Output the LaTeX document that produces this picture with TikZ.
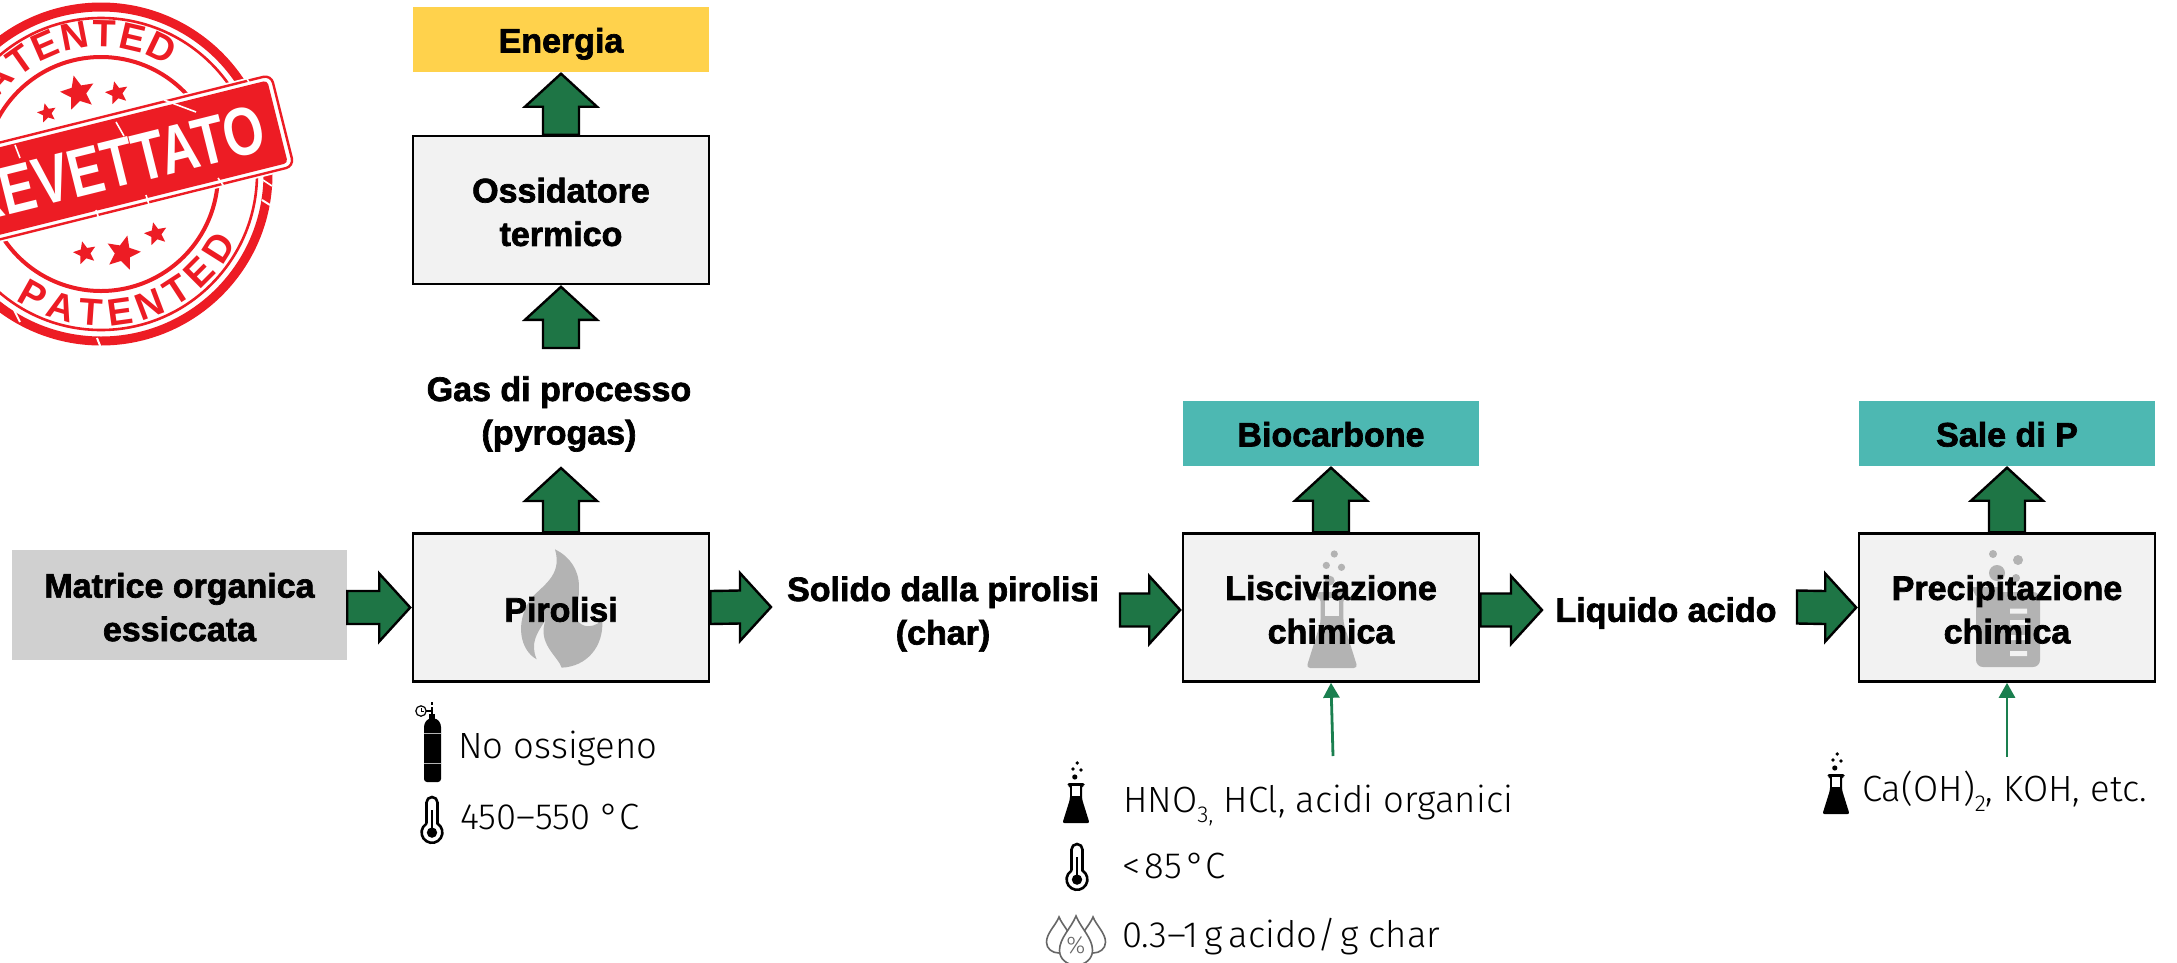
\documentclass[tikz,border=0pt]{standalone}
\usepackage{fontspec}
\setmainfont{Liberation Sans}[BoldFeatures={FakeBold=2}]
\newfontfamily\lightf{Fira Sans Light}
\newfontfamily\stampf{Liberation Sans}
\usetikzlibrary{arrows.meta,calc,shapes.geometric,decorations.text}
\definecolor{arrowgreen}{HTML}{1E7545}
\definecolor{thingreen}{HTML}{1A7F4F}
\definecolor{boxgrey}{HTML}{F2F2F2}
\definecolor{icongrey}{HTML}{B3B3B3}
\definecolor{tealbox}{HTML}{4DB8B2}
\definecolor{yellowbox}{HTML}{FFD24C}
\definecolor{matgrey}{HTML}{D0D0D0}
\definecolor{stampred}{HTML}{ED1C24}
\definecolor{dropgrey}{HTML}{666666}
\newcommand{\sbs}[1]{\raisebox{-.28em}{\fontsize{23}{23}\selectfont #1}}
\tikzset{
  head/.style={font=\bfseries\fontsize{34}{43.5}\selectfont,align=center,inner sep=0pt},
  procbox/.style={draw=black,line width=2.6pt,fill=boxgrey,minimum width=296pt,minimum height=148pt,inner sep=0pt},
  outbox/.style={head,minimum width=296pt,minimum height=65pt,text height=30pt,text depth=4pt},
  info/.style={font=\lightf\fontsize{36.5}{40}\selectfont,anchor=base west,inner sep=0pt},
  fatbase/.style={draw=black,line width=2.4pt,fill=arrowgreen,line join=miter,miter limit=10},
  fatright/.style={fatbase,to path={
     ($(\tikztostart)+(0,-16.5)$) -- ($(\tikztotarget)+(-31,-16.5)$) -- ($(\tikztotarget)+(-31,-34)$) -- (\tikztotarget)
     -- ($(\tikztotarget)+(-31,34)$) -- ($(\tikztotarget)+(-31,16.5)$) -- ($(\tikztostart)+(0,16.5)$)}},
  fatup/.style={fatbase,to path={
     ($(\tikztostart)+(-18,0)$) -- ($(\tikztotarget)+(-18,33)$) -- ($(\tikztotarget)+(-36,33)$) -- (\tikztotarget)
     -- ($(\tikztotarget)+(36,33)$) -- ($(\tikztotarget)+(18,33)$) -- ($(\tikztostart)+(18,0)$)}},
  thinup/.style={draw=thingreen,line width=2.8pt,-{Triangle[length=15pt,width=16pt]}},
  ringline/.style={draw=stampred},
  stampstar/.style={star,star points=5,star point ratio=2.2,fill=stampred,inner sep=0pt},
  scratch/.style={draw=white,line width=1.6pt},
}
% flask: x, y of bottom centre, scale, colour, window colour
\newcommand{\flaskicon}[5]{%
  \begin{scope}[shift={(#1,#2)},x=#3pt,y=#3pt]
    \fill[#4,rounded corners=#3*2pt] (-13.5,0) -- (13.5,0) -- (6,24) -- (6,37) -- (8.5,37) -- (8.5,40) -- (-8.5,40) -- (-8.5,37) -- (-6,37) -- (-6,24) -- cycle;
    \fill[#5] (-3.7,27.5) rectangle (3.7,37);
    \fill[#4] (-1.2,46) circle[radius=#3*2.6pt] (-3,54) circle[radius=#3*1.9pt] (5,53) circle[radius=#3*1.9pt] (1.2,60) circle[radius=#3*1.9pt];
  \end{scope}}
% thermometer: x, y of bottom
\newcommand{\thermoicon}[2]{%
  \begin{scope}[shift={(#1,#2)},x=1pt,y=1pt]
    \draw[black,line width=2.6pt] (-5.5,19.4) -- (-5.5,40.5) arc[start angle=180,end angle=0,radius=5.5pt] -- (5.5,19.4) arc[start angle=58,end angle=-238,radius=10.4pt];
    \fill[black] (0,10.4) circle[radius=5.2pt];
    \fill[black] (-1,10) rectangle (1,33);
  \end{scope}}
\newcommand{\dropicon}[4]{%
  \begin{scope}[shift={(#1,#2)},x=#3pt,y=-#4pt]
    \draw[dropgrey,fill=white,line width=1.6pt] (0,0) .. controls (.3,.25) and (1,.45) .. (1,.7) .. controls (1,.88) and (.55,1) .. (0,1) .. controls (-.55,1) and (-1,.88) .. (-1,.7) .. controls (-1,.45) and (-.3,.25) .. (0,0) -- cycle;
  \end{scope}}
\begin{document}
\begin{tikzpicture}[x=1pt,y=-1pt]
\useasboundingbox (0,0) rectangle (2177,962);
\fill[white] (0,0) rectangle (2177,962);

% stamp
\begin{scope}
  \clip (0,0) rectangle (400,360);
  \coordinate (stampc) at (101,174);
  \draw[ringline,line width=9pt] (stampc) circle[radius=167pt];
  \draw[ringline,line width=2.6pt] (stampc) circle[radius=156pt];
  \draw[ringline,line width=4pt] (stampc) circle[radius=117pt];
  \path[decorate,decoration={text along path,text align={fit to path},text={|\stampf\bfseries\fontsize{38}{38}\selectfont\color{stampred}|PATENTED}}]
     (stampc) ++(156:127pt) arc[start angle=156,end angle=58,radius=127pt];
  \path[decorate,decoration={text along path,text align={fit to path},text={|\stampf\bfseries\fontsize{38}{38}\selectfont\color{stampred}|PATENTED}}]
     (stampc) ++(-124:152pt) arc[start angle=-124,end angle=-27,radius=152pt];
  \node[stampstar,minimum size=36pt,rotate=14] (s1) at (78,93) {};
  \node[stampstar,minimum size=24pt,rotate=14] (s2) at (117,93) {};
  \node[stampstar,minimum size=20pt,rotate=14] (s3) at (47,113) {};
  \node[stampstar,minimum size=36pt,rotate=-14] (s4) at (123,253) {};
  \node[stampstar,minimum size=24pt,rotate=14] (s5) at (85,253) {};
  \node[stampstar,minimum size=24pt,rotate=14] (s6) at (156,234) {};
  \node[fill=white,draw=white,line width=4pt,rounded corners=8pt,minimum width=376pt,minimum height=96pt,rotate=14,inner sep=0pt] (bannerwhite) at (100,166) {};
  \node[draw=stampred,line width=2.4pt,rounded corners=8pt,minimum width=376pt,minimum height=94pt,rotate=14,inner sep=0pt] (bannerline) at (100,166) {};
  \node[fill=stampred,rounded corners=4pt,minimum width=366pt,minimum height=85pt,rotate=14,inner sep=0pt] (banner) at (100,166) {};
  \node[font=\stampf\bfseries\fontsize{68}{68}\selectfont,text=white,rotate=14,anchor=east,inner sep=0pt] (bannertext) at (264,127) {\scalebox{.77}[1]{BREVETTATO}};
  % wear marks
  \draw[scratch] (116,122) -- (124,136) (164,100) -- (196,112) (218,178) -- (228,192) (146,195) -- (150,208) (96,210) -- (100,222) (15,145) -- (20,158) (243,72) -- (250,84) (263,180) -- (272,186);
  \draw[scratch,line width=2pt] (238,55) -- (244,64) (262,200) -- (270,205) (97,338) -- (101,348) (14,310) -- (20,322);
\end{scope}

% output boxes and nodes
\node[outbox,fill=yellowbox] (energia) at (561,39.5) {Energia};
\node[outbox,fill=tealbox] (biochar) at (1331,433.5) {Biocarbone};
\node[outbox,fill=tealbox] (sale) at (2007,433.5) {Sale di P};
\node[head,fill=matgrey,minimum width=335pt,minimum height=110pt] (matrice) at (179.5,605) {\rule{0pt}{29pt}Matrice organica\\essiccata};
\node[head] (gas) at (559,414) {Gas di processo\\(pyrogas)};
\node[head] (solido) at (943,614) {Solido dalla pirolisi\\(char)};
\node[head] (liquido) at (1666,613) {Liquido acido};

\coordinate (gastail) at (561,348);
\coordinate (gastip) at (561,468);
\coordinate (pirtip) at (771,607);
\coordinate (soltail) at (1120,610);
\coordinate (listip) at (1542,610);
\coordinate (liqtail) at (1797,607);
\coordinate (acidin) at (1333,756);
\coordinate (basein) at (2007,757);

% process boxes, each with its faint icon under its label
\node[procbox] (ossid) at (561,210) {};
\node[head] (ossidlabel) at ($(ossid)+(0,2)$) {Ossidatore\\termico};

\node[procbox] (pirolisi) at (561,607.5) {};
\begin{scope}[shift={(380,500)},x=.3333pt,y=-.3333pt]
  \fill[icongrey] (525,148) .. controls (570,170) and (597,210) .. (597,260) .. controls (597,300) and (592,330) .. (590,350) .. controls (590,375) and (630,395) .. (667,360) .. controls (672,440) and (620,500) .. (545,503) .. controls (535,470) and (470,430) .. (497,360) .. controls (470,400) and (450,430) .. (470,478) .. controls (420,450) and (405,370) .. (450,300) .. controls (480,260) and (550,230) .. (525,148) -- cycle;
\end{scope}
\node[head] (pirolisilabel) at ($(pirolisi)+(0,2)$) {Pirolisi};

\node[procbox] (lisciv) at (1331,607.5) {};
\flaskicon{1332}{668}{1.9}{icongrey}{boxgrey}
\node[head] (liscivlabel) at ($(lisciv)+(0,2)$) {Lisciviazione\\chimica};

\node[procbox] (precip) at (2007,607.5) {};
\fill[icongrey,rounded corners=7pt] (1976,592) -- (2040,592) -- (2040,667) -- (1976,667) -- cycle;
\fill[icongrey] (1971,587) -- (2000,587) -- (2000,596) -- (1976,596) -- cycle;
\fill[boxgrey] (2010,608.5) rectangle (2027,613.5) (2010,620) rectangle (2027,625) (2010,635) rectangle (2027,640) (2010,651) rectangle (2027,656);
\fill[icongrey] (1993,554) circle[radius=4pt] (2018,560) circle[radius=5pt] (1997,573) circle[radius=8pt] (2016,578) circle[radius=4pt];
\node[head] (preciplabel) at ($(precip)+(0,2)$) {Precipitazione\\chimica};

% fat arrows
\draw[fatright] (matrice.east |- pirolisi.west) to ($(pirolisi.west)+(-1.5,0)$) -- cycle;
\draw[fatright] (pirolisi.east) to (pirtip) -- cycle;
\draw[fatright] (soltail) to ($(lisciv.west)+(-1.5,2.5)$) -- cycle;
\draw[fatright] ($(lisciv.east)+(0,2.5)$) to (listip) -- cycle;
\draw[fatright] (liqtail) to ($(precip.west)+(-1.5,0)$) -- cycle;
\draw[fatup] (pirolisi.north) to (gastip) -- cycle;
\draw[fatup] (gastail) to ($(ossid.south -| gastail)+(0,1.5)$) -- cycle;
\draw[fatup] (ossid.north) to ($(energia.south)+(0,1.5)$) -- cycle;
\draw[fatup] (lisciv.north) to ($(biochar.south)+(0,1.5)$) -- cycle;
\draw[fatup] (precip.north) to ($(sale.south)+(0,1.5)$) -- cycle;
\draw[thinup] (acidin) -- (lisciv.south);
\draw[thinup] (basein) -- (precip.south);

% info texts
\node[info] (noox) at (458,758) {No ossigeno};
\node[info] (tpir) at (460,829) {450–550 °C};
\node[info] (acidi) at (1123,812) {HNO\sbs{3,} HCl, acidi organici};
\node[info] (tlis) at (1122,878) {<\hspace{.12em}85\hspace{.12em}°C};
\node[info] (dose) at (1122,947) {0.3–1\hspace{.16em}g\hspace{.16em}acido/\hspace{.1em}g char};
\node[info] (basi) at (1862,801) {Ca(OH)\sbs{2}, KOH, etc.};

% icons
\fill[black,rounded corners=3pt] (424,782) -- (424,724) -- (428,718.5) -- (437,718.5) -- (441,724) -- (441,782) -- cycle;
\draw[white,opacity=.7,line width=1pt] (424,733) -- (441,733) (424,763) -- (441,763);
\fill[black] (429,714) rectangle (435,719);
\draw[black,line width=1.2pt] (421,711) circle[radius=5.2pt];
\draw[black,line width=1pt] (421,711) -- (421,707.5) (421,711) -- (424,711);
\draw[black,line width=1.4pt] (426,711) -- (432,711);
\draw[black,line width=1.6pt] (432,714) -- (432,707);
\draw[black,line width=1.2pt] (432,705) -- (432,702);
\thermoicon{432}{843}
\thermoicon{1077}{890}
\flaskicon{1076}{823}{1}{black}{white}
\flaskicon{1836}{814}{1}{black}{white}
\dropicon{1059}{917}{12.5}{36}
\dropicon{1093}{917}{12.5}{36}
\dropicon{1076}{916}{16.5}{49}
\node[font=\lightf\fontsize{24}{24}\selectfont,text=dropgrey,inner sep=0pt] (pct) at (1076,945) {\%};
\end{tikzpicture}
\end{document}
